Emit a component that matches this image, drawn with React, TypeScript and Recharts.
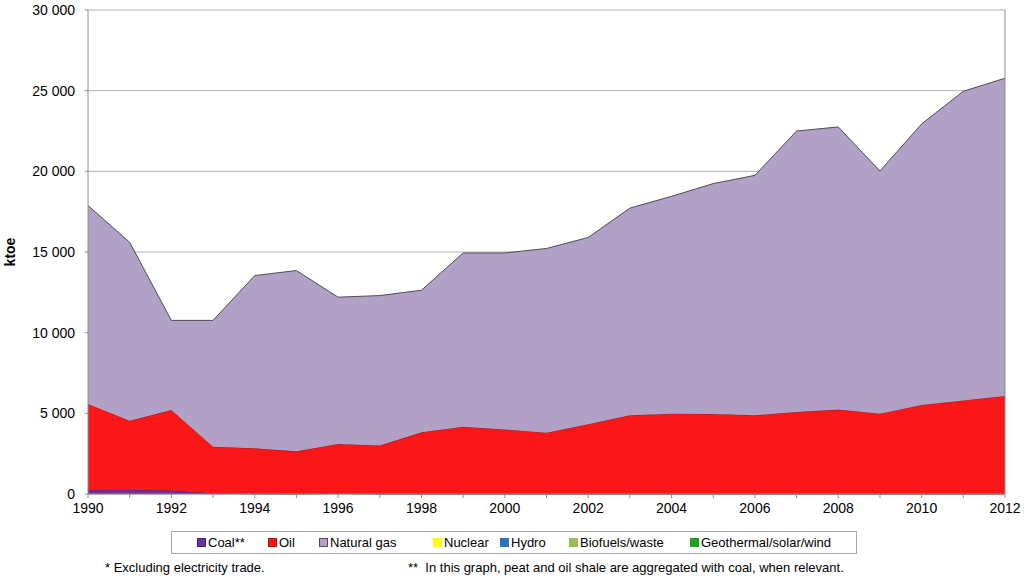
import React from 'react';
import { AreaChart, Area, XAxis, YAxis, CartesianGrid, ReferenceLine } from 'recharts';

const years = [1990, 1991, 1992, 1993, 1994, 1995, 1996, 1997, 1998, 1999, 2000, 2001, 2002, 2003, 2004, 2005, 2006, 2007, 2008, 2009, 2010, 2011, 2012];
const coal = [250, 260, 210, 40, 10, 0, 30, 0, 0, 0, 0, 0, 0, 0, 0, 0, 0, 0, 0, 0, 0, 0, 0];
const oil = [5330, 4280, 4990, 2890, 2820, 2650, 3070, 3000, 3820, 4170, 4000, 3800, 4320, 4880, 4980, 4960, 4880, 5080, 5230, 4980, 5520, 5800, 6070];
const naturalGas = [12300, 11060, 5560, 7830, 10710, 11200, 9100, 9300, 8810, 10770, 10940, 11420, 11580, 12840, 13470, 14280, 14870, 17420, 17520, 15040, 17420, 19160, 19700];
const nuclear = [0, 0, 0, 0, 0, 0, 0, 0, 0, 0, 0, 0, 0, 0, 0, 0, 0, 0, 0, 0, 0, 0, 0];
const hydro = [0, 0, 0, 0, 0, 0, 0, 0, 0, 0, 0, 0, 0, 0, 0, 0, 0, 0, 0, 0, 0, 0, 0];
const biofuels = [0, 0, 0, 0, 0, 0, 0, 0, 0, 0, 0, 0, 0, 0, 0, 0, 0, 0, 0, 0, 0, 0, 0];
const geothermal = [0, 0, 0, 0, 0, 0, 0, 0, 0, 0, 0, 0, 0, 0, 0, 0, 0, 0, 0, 0, 0, 0, 0];

const yTicks = [0, 5000, 10000, 15000, 20000, 25000, 30000];
const xTicks = years;
const footnote1 = '* Excluding electricity trade.';
const footnote2 = '**  In this graph, peat and oil shale are aggregated with coal, when relevant.';

const seriesList = [
  { key: 'coal', name: 'Coal**', values: coal, fill: '#7030A0', stroke: '#4b1f6e' },
  { key: 'oil', name: 'Oil', values: oil, fill: '#FA1717', stroke: '#9c1a1a' },
  { key: 'gas', name: 'Natural gas', values: naturalGas, fill: '#B1A1C7', stroke: '#4d4d55' },
  { key: 'nuclear', name: 'Nuclear', values: nuclear, fill: '#FFFF00', stroke: 'none' },
  { key: 'hydro', name: 'Hydro', values: hydro, fill: '#2E75B6', stroke: 'none' },
  { key: 'bio', name: 'Biofuels/waste', values: biofuels, fill: '#9BBB59', stroke: 'none' },
  { key: 'geo', name: 'Geothermal/solar/wind', values: geothermal, fill: '#1BA51B', stroke: 'none' },
];

const legendLefts = [197, 268, 319, 433, 500, 569, 690];

const data = years.map((y, i) => {
  const row: Record<string, number> = { year: y };
  seriesList.forEach((s) => {
    row[s.key] = s.values[i];
  });
  return row;
});

const FONT = '"Liberation Sans", Arial, sans-serif';

const fmt = (v: number) => {
  const s = String(Math.round(v));
  return s.replace(/\B(?=(\d{3})+(?!\d))/g, ' ');
};

export default function App() {
  return (
    <div style={{ position: 'absolute', left: 0, top: 0, width: 1024, height: 577, background: '#fff', fontFamily: FONT }}>
      <AreaChart
        width={1024}
        height={577}
        data={data}
        margin={{ top: 10, right: 19, left: 0, bottom: 53 }}
      >
        <CartesianGrid vertical={false} stroke="#B3B3B3" strokeWidth={1} />
        <XAxis
          dataKey="year"
          type="number"
          domain={[1990, 2012]}
          ticks={xTicks}
          interval={0}
          height={30}
          tickFormatter={(v: number) => (v % 2 === 0 ? String(v) : '')}
          tick={{ fill: '#000', fontSize: 14, fontFamily: FONT }}
          tickLine={{ stroke: '#8C8C8C' }}
          axisLine={{ stroke: '#8C8C8C' }}
          tickSize={4}
          tickMargin={5}
        />
        <YAxis
          type="number"
          domain={[0, 30000]}
          ticks={yTicks}
          width={88}
          tickFormatter={fmt}
          tick={{ fill: '#000', fontSize: 14, fontFamily: FONT }}
          tickLine={{ stroke: '#8C8C8C' }}
          axisLine={{ stroke: '#8C8C8C' }}
          tickSize={3}
          tickMargin={10}
          label={{
            value: 'ktoe',
            angle: -90,
            position: 'insideLeft',
            dx: 5,
            style: { fontWeight: 'bold', fontSize: 14, fill: '#000', fontFamily: FONT, textAnchor: 'middle' },
          }}
        />
        {seriesList.map((s) => (
          <Area
            key={s.key}
            dataKey={s.key}
            name={s.name}
            stackId="1"
            type="linear"
            fill={s.fill}
            fillOpacity={1}
            stroke={s.stroke}
            strokeWidth={1}
            isAnimationActive={false}
            dot={false}
            activeDot={false}
          />
        ))}
        <ReferenceLine x={2012} stroke="#8C8C8C" strokeWidth={1} ifOverflow="extendDomain" />
      </AreaChart>

      <div
        style={{
          position: 'absolute',
          left: 171,
          top: 531,
          width: 686,
          height: 23,
          border: '1px solid #A6A6A6',
          boxSizing: 'border-box',
          background: '#fff',
        }}
      />
      {seriesList.map((s, i) => (
        <div
          key={s.key}
          style={{
            position: 'absolute',
            left: legendLefts[i],
            top: 533,
            height: 18,
            display: 'flex',
            alignItems: 'center',
            fontSize: 13,
            color: '#000',
            whiteSpace: 'nowrap',
          }}
        >
          <span
            style={{
              display: 'inline-block',
              width: 7,
              height: 7,
              background: s.fill,
              border: '1px solid ' + (s.stroke === 'none' ? s.fill : s.stroke),
              marginRight: 2,
            }}
          />
          <span>{s.name}</span>
        </div>
      ))}
      <div style={{ position: 'absolute', left: 105, top: 560, fontSize: 13, color: '#000', whiteSpace: 'nowrap' }}>{footnote1}</div>
      <div style={{ position: 'absolute', left: 408, top: 560, fontSize: 13, color: '#000', whiteSpace: 'pre' }}>{footnote2}</div>
    </div>
  );
}
